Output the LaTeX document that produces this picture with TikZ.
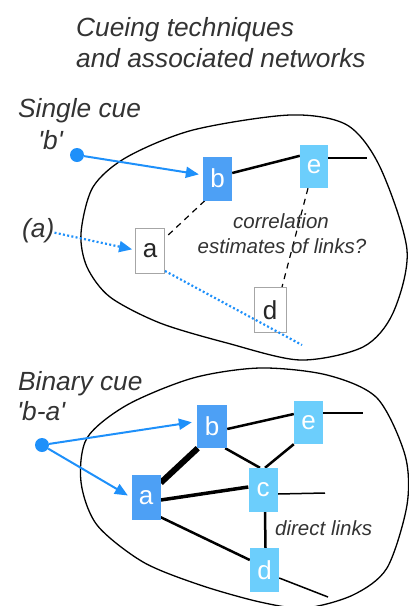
\documentclass[tikz,border=0pt]{standalone}
\usepackage{fontspec}
\setmainfont{Liberation Sans}[Ligatures=TeXOff]
\usetikzlibrary{arrows.meta,backgrounds,calc}
\definecolor{nodeblue}{RGB}{77,160,245}
\definecolor{nodelight}{RGB}{108,206,252}
\definecolor{cueblue}{RGB}{30,144,250}
\definecolor{txt}{RGB}{51,51,51}
\begin{document}
\begin{tikzpicture}[x=1pt,y=-1pt,
  nd/.style={minimum width=29pt,minimum height=44pt,inner sep=0pt,font=\fontsize{26}{26}\selectfont,text=white},
  dk/.style={nd,fill=nodeblue},
  lt/.style={nd,fill=nodelight},
  wh/.style={nd,fill=white,draw=black!35,line width=0.9pt,text=black!85},
  lbl/.style={font=\fontsize{26.3}{26.3}\selectfont\itshape,text=txt,inner sep=0pt,anchor=base west},
  note/.style={font=\fontsize{20.5}{20.5}\selectfont\itshape,text=txt,inner sep=0pt},
  blob/.style={draw=black,line width=1.3pt},
  link/.style={draw=black,line width=2.5pt},
  stub/.style={draw=black,line width=1.5pt},
  cue/.style={draw=cueblue,line width=2pt,-{Triangle[length=13pt,width=11pt]}},
  cuedot/.style={circle,fill=cueblue,minimum size=14pt,inner sep=0pt},
  dotline/.style={draw=cueblue,line width=2.2pt,dash pattern=on 2pt off 2.3pt},
  corr/.style={draw=black,line width=1.2pt,dash pattern=on 6pt off 5pt}
]
\useasboundingbox (0,0) rectangle (409,606);

% title
\node[lbl] (h1) at (76,36) {Cueing techniques};
\node[lbl] (h2) at (76,67) {and associated networks};

% ---------- single cue ----------
\node[dk] (b1) at (217.5,178.5) {b};
\node[lt,minimum width=28pt,minimum height=43pt] (e1) at (314,166.5) {e};
\node[wh,minimum height=45pt] (a1) at (150,251) {a};
\node[wh,minimum width=32pt,minimum height=45pt] (d1) at (270,310) {d};
\node[cuedot] (s1) at (77,155) {};
\node[lbl] (t1) at (18,117) {Single cue};
\node[lbl] (t2) at (38,149) {'b'};
\node[lbl] (t3) at (22,237) {(a)};
\node[note,anchor=base] (n1) at (281,228) {correlation};
\node[note,anchor=base] (n2) at (282,253) {estimates of links?};
\coordinate (e1r) at (367,158);
\coordinate (a1end) at (302,345);

\begin{scope}[on background layer]
\draw[blob] plot[smooth cycle] coordinates {(290,115) (347,125) (380,167) (407,250) (393,313) (363,347) (300,360) (227,343) (160,323) (110,297) (87,267) (81,233) (93,187) (127,157) (193,130)};
\draw[link] ([yshift=5.5pt]b1.east) -- ([yshift=-11pt]e1.north west);
\draw[stub] ([yshift=8.5pt]e1.east) -- (e1r);
\draw[corr] ([xshift=2pt]b1.south west) -- ([yshift=-10pt]a1.north east);
\draw[corr] ([xshift=-6pt]e1.south) -- ([xshift=12pt]d1.north);
\end{scope}

\draw[cue,shorten >=4pt] (s1) -- ([yshift=3.5pt]b1.west);
\draw[dotline,-{Triangle[length=13pt,width=11pt]},shorten >=3pt] ([yshift=-2.5pt]t3.east) -- ([yshift=1pt]a1.west);
\draw[dotline] ([yshift=3pt]a1.south east) -- (a1end);

% ---------- binary cue ----------
\node[dk,minimum width=30pt,minimum height=43pt] (b2) at (212,426.5) {b};
\node[lt,minimum height=43pt] (e2) at (308.5,422.5) {e};
\node[dk,minimum height=45pt] (a2) at (146,497.5) {a};
\node[lt] (c2) at (263,490) {c};
\node[lt] (d2) at (264.5,570) {d};
\node[cuedot] (s2) at (42,445) {};
\node[lbl] (t4) at (18,390) {Binary cue};
\node[lbl] (t5) at (17,420) {'b-a'};
\node[note,anchor=base west] (n3) at (275,535) {direct links};
\coordinate (e2r) at (363,413);
\coordinate (c2r) at (325,493);
\coordinate (d2r) at (328,597);

\begin{scope}[on background layer]
\draw[blob] plot[smooth cycle] coordinates {(260,368) (327,375) (377,398) (405,455) (407,505) (387,568) (353,595) (305,608) (260,602) (200,585) (143,562) (97,525) (81,482) (87,438) (127,405) (193,378)};
\draw[link] ([yshift=-2.5pt]b2.east) -- ([yshift=8.5pt]e2.west);
\draw[stub] ([yshift=9.5pt]e2.east) -- (e2r);
\draw[link] ([xshift=-2pt]b2.south east) -- ([xshift=-3pt]c2.north);
\draw[link] (e2.south west) -- ([xshift=2pt]c2.north);
\draw[draw=black,line width=6pt] ([yshift=-8pt]a2.north east) -- ([xshift=1pt]b2.south west);
\draw[draw=black,line width=3.5pt] ([yshift=-2.5pt]a2.east) -- ([yshift=3pt]c2.west);
\draw[link] ([yshift=3pt]a2.south east) -- ([yshift=10pt]d2.west);
\draw[link] ([xshift=2pt]c2.south) -- ([xshift=1pt]d2.north);
\draw[stub] ([yshift=-4pt]c2.east) -- (c2r);
\draw[stub] ([yshift=-8pt]d2.east) -- (d2r);
\end{scope}

\draw[cue,shorten >=5pt] (s2) -- ([yshift=5pt]b2.west);
\draw[cue,shorten >=4pt] (s2) -- (a2.west);
\end{tikzpicture}
\end{document}
